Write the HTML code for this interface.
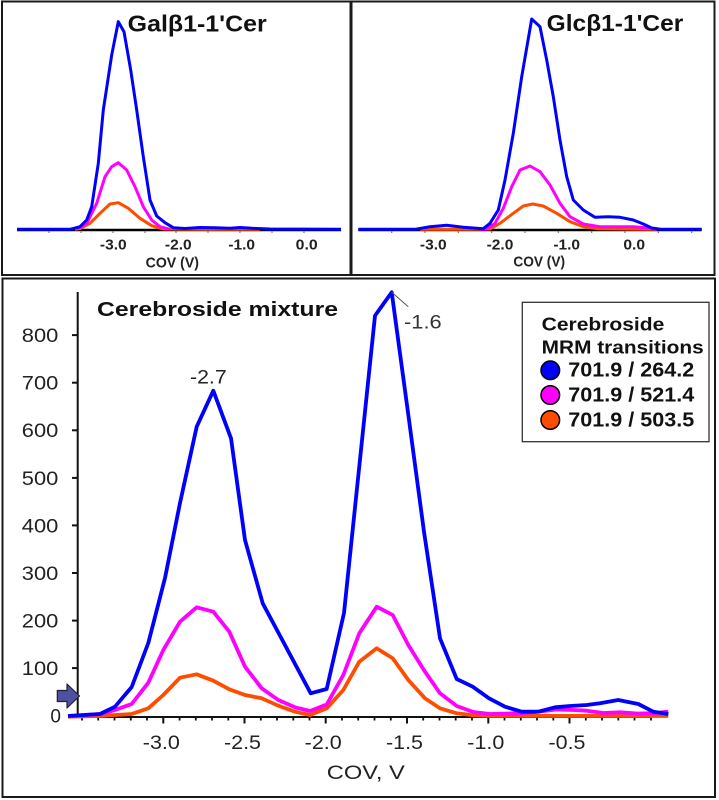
<!DOCTYPE html>
<html>
<head>
<meta charset="utf-8">
<style>
  html,body{margin:0;padding:0;background:#fff;}
  svg{display:block;}
  text{font-family:"Liberation Sans", Arial, sans-serif;}
</style>
</head>
<body>
<svg width="719" height="800" viewBox="0 0 719 800" xmlns="http://www.w3.org/2000/svg">
  <rect x="0" y="0" width="719" height="800" fill="#fff"/>

  <!-- ============ TOP LEFT PANEL ============ -->
  <rect x="2" y="1.5" width="348.5" height="273.5" fill="none" stroke="#1a1a1a" stroke-width="2"/>
  <line x1="17" y1="230" x2="341" y2="230" stroke="#000" stroke-width="2.5"/>
  <g stroke="#777" stroke-width="1.2">
    <line x1="49" y1="231" x2="49" y2="233"/>
    <line x1="81" y1="231" x2="81" y2="233"/>
    <line x1="113" y1="231" x2="113" y2="233"/>
    <line x1="145" y1="231" x2="145" y2="233"/>
    <line x1="176" y1="231" x2="176" y2="233"/>
    <line x1="208" y1="231" x2="208" y2="233"/>
    <line x1="240" y1="231" x2="240" y2="233"/>
    <line x1="272" y1="231" x2="272" y2="233"/>
    <line x1="304" y1="231" x2="304" y2="233"/>
  </g>
  <polyline fill="none" stroke="#ff4d00" stroke-width="3" stroke-linejoin="round"
    points="75,229.3 80,228.5 90,223.3 100,213.3 110,204 118.3,202.7 128.3,208.3 140,218.3 151.7,225.7 163.3,229 200,229.3 260,229.3"/>
  <polyline fill="none" stroke="#ff00ff" stroke-width="3" stroke-linejoin="round"
    points="76.7,229.3 86.7,223.3 96.7,203.3 105,176.7 111.7,166.7 118.3,162.7 126.7,170 135,186.7 143.3,206.7 151.7,220 160,226.7 170,229.3"/>
  <polyline fill="none" stroke="#0000ff" stroke-width="3" stroke-linejoin="round"
    points="17,229.3 70,229.3 80,226.7 86.7,220 91.7,206.7 98.3,163.3 103.3,110 111.7,55 118.3,21.7 124,31.7 130.7,70 136.7,110 143.3,156.7 150,200 156.7,216 165,222.7 173.3,227.7 185,228.5 200,227.5 215,227.8 230,228.2 240,227.5 252,228.3 270,229 341,229.3"/>
  <text x="197.2" y="31.5" font-size="23" font-weight="bold" fill="#111" text-anchor="middle" textLength="139" lengthAdjust="spacingAndGlyphs">Galβ1-1'Cer</text>
  <g font-size="15" font-weight="bold" fill="#222" text-anchor="middle">
    <text x="113.3" y="249.3" textLength="26.7" lengthAdjust="spacingAndGlyphs">-3.0</text>
    <text x="178.3" y="249.3" textLength="26.7" lengthAdjust="spacingAndGlyphs">-2.0</text>
    <text x="241.7" y="249.3" textLength="26.7" lengthAdjust="spacingAndGlyphs">-1.0</text>
    <text x="306.7" y="249.3" textLength="22" lengthAdjust="spacingAndGlyphs">0.0</text>
    <text x="172.3" y="267.5" textLength="53.3" lengthAdjust="spacingAndGlyphs">COV (V)</text>
  </g>

  <!-- ============ TOP RIGHT PANEL ============ -->
  <rect x="351.5" y="1.5" width="363" height="273.5" fill="none" stroke="#1a1a1a" stroke-width="2"/>
  <line x1="358.3" y1="230" x2="701.7" y2="230" stroke="#000" stroke-width="2.5"/>
  <g stroke="#777" stroke-width="1.2">
    <line x1="391.7" y1="231" x2="391.7" y2="233"/>
    <line x1="425" y1="231" x2="425" y2="233"/>
    <line x1="458.3" y1="231" x2="458.3" y2="233"/>
    <line x1="491.7" y1="231" x2="491.7" y2="233"/>
    <line x1="525" y1="231" x2="525" y2="233"/>
    <line x1="558.3" y1="231" x2="558.3" y2="233"/>
    <line x1="591.7" y1="231" x2="591.7" y2="233"/>
    <line x1="625" y1="231" x2="625" y2="233"/>
    <line x1="658.3" y1="231" x2="658.3" y2="233"/>
    <line x1="691.7" y1="231" x2="691.7" y2="233"/>
  </g>
  <polyline fill="none" stroke="#ff4d00" stroke-width="3" stroke-linejoin="round"
    points="420,229.3 470,229.3 490,229 500,223.3 513.3,213.3 523.3,206 532.7,204 543.3,206 556.7,213.3 570,221.7 583.3,226.7 596.7,228.7 656.7,229.3"/>
  <polyline fill="none" stroke="#ff00ff" stroke-width="3" stroke-linejoin="round"
    points="480,229.3 486.7,229 495,223.3 503.3,208.3 511.7,186.7 520,170 530,166 540,171.7 550,185 560,203.3 570,216.7 583.3,224 600,226.7 633.3,226.7 650,228 656.7,229.3"/>
  <polyline fill="none" stroke="#0000ff" stroke-width="3" stroke-linejoin="round"
    points="358.3,229.3 415,229.3 430,226.7 446.7,225.3 463.3,227.3 483.3,228.7 490,223.3 498.3,210 505,180 513.3,133.3 521.7,76.7 531.7,19 540,26.7 546.7,60 553.3,96.7 560,140 566.7,176.7 573.3,200 583.3,210 595,217.3 608.3,216.7 620,217.3 633.3,220 643.3,224 651.7,228 661.7,229.3 701.7,229.3"/>
  <text x="615" y="31" font-size="23" font-weight="bold" fill="#111" text-anchor="middle" textLength="136.6" lengthAdjust="spacingAndGlyphs">Glcβ1-1'Cer</text>
  <g font-size="15" font-weight="bold" fill="#222" text-anchor="middle">
    <text x="433.3" y="249.3" textLength="26.7" lengthAdjust="spacingAndGlyphs">-3.0</text>
    <text x="500" y="249.3" textLength="26.7" lengthAdjust="spacingAndGlyphs">-2.0</text>
    <text x="566.7" y="249.3" textLength="26.7" lengthAdjust="spacingAndGlyphs">-1.0</text>
    <text x="634.2" y="249.3" textLength="21.7" lengthAdjust="spacingAndGlyphs">0.0</text>
    <text x="539.2" y="266.5" textLength="51.7" lengthAdjust="spacingAndGlyphs">COV (V)</text>
  </g>

  <!-- ============ BOTTOM PANEL ============ -->
  <rect x="2.5" y="278.5" width="712.5" height="518.5" fill="none" stroke="#1a1a1a" stroke-width="2"/>

  <line x1="77.7" y1="292" x2="77.7" y2="717.5" stroke="#111" stroke-width="2"/>
  <g stroke="#111" stroke-width="2">
    <line x1="72" y1="715.7" x2="78" y2="715.7"/>
    <line x1="72" y1="668.1" x2="78" y2="668.1"/>
    <line x1="72" y1="620.6" x2="78" y2="620.6"/>
    <line x1="72" y1="573" x2="78" y2="573"/>
    <line x1="72" y1="525.4" x2="78" y2="525.4"/>
    <line x1="72" y1="477.9" x2="78" y2="477.9"/>
    <line x1="72" y1="430.3" x2="78" y2="430.3"/>
    <line x1="72" y1="382.7" x2="78" y2="382.7"/>
    <line x1="72" y1="335.1" x2="78" y2="335.1"/>
  </g>
  <g font-size="19" fill="#222" text-anchor="end">
    <text x="61" y="722.5">0</text>
    <text x="58.3" y="675" textLength="36.5" lengthAdjust="spacingAndGlyphs">100</text>
    <text x="58.3" y="627.5" textLength="36.5" lengthAdjust="spacingAndGlyphs">200</text>
    <text x="58.3" y="580" textLength="36.5" lengthAdjust="spacingAndGlyphs">300</text>
    <text x="58.3" y="532.3" textLength="36.5" lengthAdjust="spacingAndGlyphs">400</text>
    <text x="58.3" y="484.8" textLength="36.5" lengthAdjust="spacingAndGlyphs">500</text>
    <text x="58.3" y="437.2" textLength="36.5" lengthAdjust="spacingAndGlyphs">600</text>
    <text x="58.3" y="389.6" textLength="36.5" lengthAdjust="spacingAndGlyphs">700</text>
    <text x="58.3" y="342" textLength="36.5" lengthAdjust="spacingAndGlyphs">800</text>
  </g>

  <line x1="77" y1="717" x2="652.5" y2="717" stroke="#111" stroke-width="2"/>
  <g stroke="#111" stroke-width="2">
    <line x1="163.3" y1="717" x2="163.3" y2="723.5"/>
    <line x1="244.5" y1="717" x2="244.5" y2="723.5"/>
    <line x1="325.7" y1="717" x2="325.7" y2="723.5"/>
    <line x1="407" y1="717" x2="407" y2="723.5"/>
    <line x1="488.3" y1="717" x2="488.3" y2="723.5"/>
    <line x1="569.5" y1="717" x2="569.5" y2="723.5"/>
  </g>
  <g stroke="#111" stroke-width="1.8">
    <line x1="82" y1="717" x2="82" y2="720.5"/>
    <line x1="98.2" y1="717" x2="98.2" y2="720.5"/>
    <line x1="114.5" y1="717" x2="114.5" y2="720.5"/>
    <line x1="130.8" y1="717" x2="130.8" y2="720.5"/>
    <line x1="147" y1="717" x2="147" y2="720.5"/>
    <line x1="179.6" y1="717" x2="179.6" y2="720.5"/>
    <line x1="195.8" y1="717" x2="195.8" y2="720.5"/>
    <line x1="212" y1="717" x2="212" y2="720.5"/>
    <line x1="228.3" y1="717" x2="228.3" y2="720.5"/>
    <line x1="260.8" y1="717" x2="260.8" y2="720.5"/>
    <line x1="277" y1="717" x2="277" y2="720.5"/>
    <line x1="293.3" y1="717" x2="293.3" y2="720.5"/>
    <line x1="309.5" y1="717" x2="309.5" y2="720.5"/>
    <line x1="342" y1="717" x2="342" y2="720.5"/>
    <line x1="358.2" y1="717" x2="358.2" y2="720.5"/>
    <line x1="374.5" y1="717" x2="374.5" y2="720.5"/>
    <line x1="390.8" y1="717" x2="390.8" y2="720.5"/>
    <line x1="423.2" y1="717" x2="423.2" y2="720.5"/>
    <line x1="439.5" y1="717" x2="439.5" y2="720.5"/>
    <line x1="455.7" y1="717" x2="455.7" y2="720.5"/>
    <line x1="472" y1="717" x2="472" y2="720.5"/>
    <line x1="504.5" y1="717" x2="504.5" y2="720.5"/>
    <line x1="520.8" y1="717" x2="520.8" y2="720.5"/>
    <line x1="537" y1="717" x2="537" y2="720.5"/>
    <line x1="553.3" y1="717" x2="553.3" y2="720.5"/>
    <line x1="585.8" y1="717" x2="585.8" y2="720.5"/>
    <line x1="602" y1="717" x2="602" y2="720.5"/>
    <line x1="618.3" y1="717" x2="618.3" y2="720.5"/>
    <line x1="634.5" y1="717" x2="634.5" y2="720.5"/>
    <line x1="651" y1="717" x2="651" y2="720.5"/>
  </g>
  <g font-size="19" fill="#222" text-anchor="middle">
    <text x="161.3" y="749" textLength="37" lengthAdjust="spacingAndGlyphs">-3.0</text>
    <text x="242.5" y="749" textLength="37" lengthAdjust="spacingAndGlyphs">-2.5</text>
    <text x="323.2" y="749" textLength="37" lengthAdjust="spacingAndGlyphs">-2.0</text>
    <text x="404.5" y="749" textLength="37" lengthAdjust="spacingAndGlyphs">-1.5</text>
    <text x="485.8" y="749" textLength="37" lengthAdjust="spacingAndGlyphs">-1.0</text>
    <text x="567" y="749" textLength="37" lengthAdjust="spacingAndGlyphs">-0.5</text>
    <text x="365.8" y="779" font-size="19.5" textLength="78" lengthAdjust="spacingAndGlyphs">COV, V</text>
  </g>

  <polyline fill="none" stroke="#ff4d00" stroke-width="3.8" stroke-linejoin="round"
    points="68,716.7 100,716 115,715 131.7,714 148.3,708.3 163.3,695 180,677.7 196.7,674.3 213.3,680.7 229.3,689.3 245,695 261.7,698.3 278.3,705.7 295,711.7 310,715 326.7,708.3 343.3,690 359.3,661.7 376.7,648.3 392.7,658.3 408.3,680 425,698.3 440,708.3 456.7,713.3 473.3,715.3 490,715.8 668.3,716"/>
  <polyline fill="none" stroke="#ff00ff" stroke-width="3.8" stroke-linejoin="round"
    points="68,716 100,714 115,710 131.7,704 148.3,682.7 163.3,650 180,621.7 196.7,607.3 213.3,611.7 229.3,631.7 245,666.7 261.7,688.3 278.3,700 295,707.3 310,711 326.7,704.5 343.3,675 359.3,633.3 376.7,606.7 392.7,615 408.3,645 425,671.7 440,693.3 456.7,706 473.3,712 490,714 520,713.3 540,711.5 556.7,709.5 573.3,710 586.7,710.7 603.3,713 620,712.3 636.7,713.5 653.3,713.3 668.3,711.7"/>
  <polyline fill="none" stroke="#0000ff" stroke-width="3.8" stroke-linejoin="round"
    points="68,716 100,714 115,706.7 131.7,687 148.3,643 165,578 180,503 196.7,426.7 213.3,390.7 231,438.3 245,540 262.7,603.3 310.7,693.3 326.7,689 344,613 375,315.7 391.7,292.3 407.7,410.3 424,531.7 440,638.3 456.7,679 472.7,686.7 489,698.3 505,706.7 521.7,711.7 538.3,711.7 555,707.3 570,706 586.7,705 600,703.3 618.3,700 638.3,704 653.3,711.7 668.3,714"/>

  <polygon points="57.3,690.5 67,690.5 67,684 79.5,696 67,708 67,701.5 57.3,701.5" fill="#4d519e" stroke="#1e1e3a" stroke-width="1.2" stroke-linejoin="round"/>

  <text x="97" y="316" font-size="20" font-weight="bold" fill="#111" textLength="241" lengthAdjust="spacingAndGlyphs">Cerebroside mixture</text>
  <text x="190" y="383.3" font-size="19" fill="#222" textLength="36.7" lengthAdjust="spacingAndGlyphs">-2.7</text>
  <line x1="391.7" y1="292.3" x2="408.3" y2="306.7" stroke="#555" stroke-width="1"/>
  <text x="404" y="328.3" font-size="19.5" fill="#333" textLength="37.7" lengthAdjust="spacingAndGlyphs">-1.6</text>

  <rect x="522.3" y="302.3" width="186.7" height="139.4" fill="#fff" stroke="#333" stroke-width="1.3"/>
  <g font-weight="bold" fill="#111">
    <text x="541.7" y="330.7" font-size="18.7" textLength="122.6" lengthAdjust="spacingAndGlyphs">Cerebroside</text>
    <text x="541.7" y="353.3" font-size="18.7" textLength="162" lengthAdjust="spacingAndGlyphs">MRM transitions</text>
    <text x="568.3" y="376.7" font-size="20.5" textLength="126" lengthAdjust="spacingAndGlyphs">701.9 / 264.2</text>
    <text x="568.3" y="401.5" font-size="20.5" textLength="126" lengthAdjust="spacingAndGlyphs">701.9 / 521.4</text>
    <text x="568.3" y="426.5" font-size="20.5" textLength="126" lengthAdjust="spacingAndGlyphs">701.9 / 503.5</text>
  </g>
  <circle cx="550.3" cy="370.3" r="9.3" fill="#0000ff" stroke="#000" stroke-width="1.5"/>
  <circle cx="550.3" cy="395" r="9.3" fill="#ff00ff" stroke="#000" stroke-width="1.5"/>
  <circle cx="550.3" cy="420" r="9.3" fill="#ff4d00" stroke="#000" stroke-width="1.5"/>
</svg>
</body>
</html>
